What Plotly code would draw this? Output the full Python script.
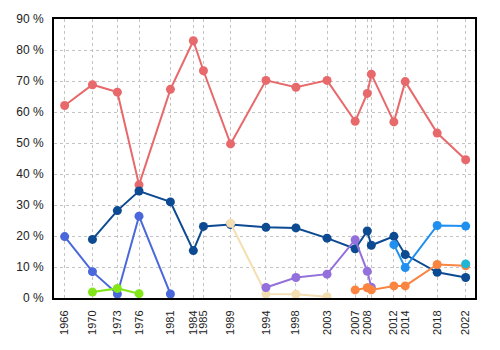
import plotly.graph_objects as go

# election positions (fractional years) and their tick labels
tick_vals = [1966.43, 1970.33, 1973.83, 1976.87, 1981.28, 1984.5, 1985.92, 1989.73,
             1994.7, 1998.91, 2003.28, 2007.23, 2008.93, 2009.5, 2012.67, 2014.26,
             2018.75, 2022.75]
tick_text = ["1966", "1970", "1973", "1976", "1981", "1984", "1985", "1989",
             "1994", "1998", "2003", "2007", "2008", "", "2012", "2014", "2018", "2022"]

red_x = tick_vals
red_y = [62.1, 68.8, 66.4, 36.5, 67.3, 83.0, 73.3, 49.7, 70.2, 68.0, 70.2, 57.0,
         66.0, 72.2, 56.8, 69.8, 53.2, 44.6]

royal_x = [1966.43, 1970.33, 1973.83, 1976.87, 1981.28]
royal_y = [19.8, 8.5, 1.3, 26.4, 1.3]

navy_x = [1970.33, 1973.83, 1976.87, 1981.28, 1984.5, 1985.92, 1989.73, 1994.7,
          1998.91, 2003.28, 2007.23, 2008.93, 2009.5, 2012.67, 2014.26, 2018.75, 2022.75]
navy_y = [18.9, 28.2, 34.5, 31.0, 15.3, 23.1, 23.7, 22.8, 22.6, 19.3, 15.9, 21.6,
          17.0, 19.9, 14.0, 8.3, 6.6]

lime_x = [1970.33, 1973.83, 1976.87]
lime_y = [1.9, 3.1, 1.4]

beige_x = [1989.73, 1994.7, 1998.91, 2003.28]
beige_y = [24.1, 1.3, 1.2, 0.4]

purple_x = [1994.7, 1998.91, 2003.28, 2007.23, 2008.93, 2009.5]
purple_y = [3.4, 6.6, 7.7, 18.8, 8.6, 3.5]

orange_x = [2007.23, 2008.93, 2009.5, 2012.67, 2014.26, 2018.75, 2022.75]
orange_y = [2.6, 3.3, 2.6, 3.9, 3.9, 10.8, 10.4]

dodger_x = [2012.67, 2014.26, 2018.75, 2022.75]
dodger_y = [17.2, 9.8, 23.4, 23.2]

cyan_x = [2022.75]
cyan_y = [11.0]

y_ticks = [0, 10, 20, 30, 40, 50, 60, 70, 80, 90]
y_text = [f"{v} %" for v in y_ticks]

series = [
    (red_x, red_y, "#e8696b"),
    (royal_x, royal_y, "#4a68db"),
    (navy_x, navy_y, "#0c4a92"),
    (lime_x, lime_y, "#82e619"),
    (beige_x, beige_y, "#f4dfb2"),
    (purple_x, purple_y, "#9370db"),
    (orange_x, orange_y, "#f98541"),
    (dodger_x, dodger_y, "#2090f0"),
    (cyan_x, cyan_y, "#22b6d6"),
]

fig = go.Figure()
for xs, ys, col in series:
    fig.add_trace(go.Scatter(x=xs, y=ys, mode="lines+markers",
                             line=dict(color=col, width=2),
                             marker=dict(color=col, size=9),
                             showlegend=False, hoverinfo="skip"))

fig.update_layout(
    width=500, height=350,
    margin=dict(l=54, r=25, t=17, b=52),
    paper_bgcolor="white", plot_bgcolor="white",
    font=dict(family="Liberation Sans, Arial, sans-serif", size=12, color="#222"),
)
fig.update_xaxes(
    range=[1964.93, 2024.06], tickmode="array", tickvals=tick_vals, ticktext=tick_text,
    tickangle=-90, showgrid=True, gridcolor="#c4c4c4", griddash="dot", gridwidth=1,
    showline=True, linecolor="black", linewidth=2, mirror=True,
    ticks="outside", ticklen=6, tickcolor="rgba(0,0,0,0)", zeroline=False,
    tickfont=dict(size=11),
)
fig.update_yaxes(
    range=[0, 90], tickmode="array", tickvals=y_ticks, ticktext=y_text,
    showgrid=True, gridcolor="#c4c4c4", griddash="dot", gridwidth=1,
    showline=True, linecolor="black", linewidth=2, mirror=True,
    ticks="outside", ticklen=6, tickcolor="rgba(0,0,0,0)", zeroline=False,
    tickfont=dict(size=12),
)

fig.write_html("out.html")
